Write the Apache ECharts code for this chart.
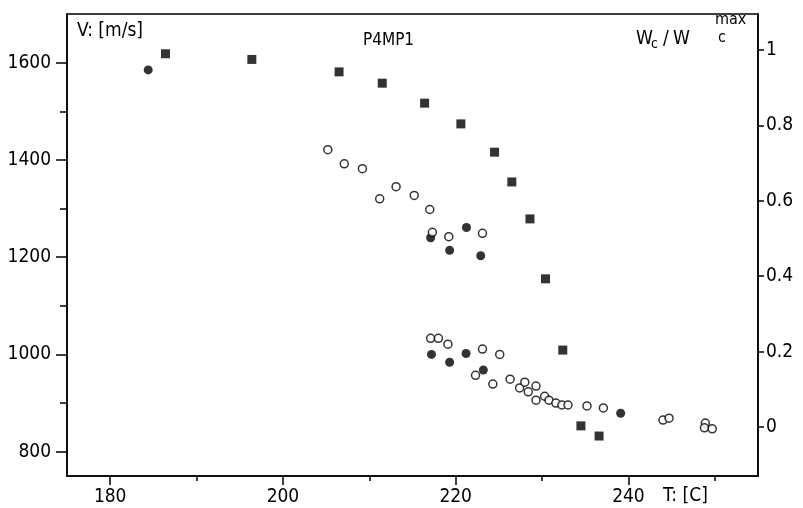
<!DOCTYPE html>
<html>
<head>
<meta charset="utf-8">
<script src="https://cdn.jsdelivr.net/npm/echarts@6/dist/echarts.min.js"></script>
<style>
  html, body { margin: 0; padding: 0; background: #fff; }
  #chart { width: 803px; height: 508px; }
</style>
</head>
<body>
<div id="chart"></div>
<script>
(function(){

    var FONT = '"Liberation Sans Narrow", "DejaVu Sans Condensed", "Liberation Sans", sans-serif';
    var INK = '#000';

    // filled squares: W_c / W_c^max (right axis)
    var squareT = [186.4, 196.4, 206.5, 211.5, 216.4, 220.6, 224.5, 226.5, 228.6, 230.4, 232.4, 234.5, 236.6];
    var squareW = [0.99, 0.975, 0.942, 0.912, 0.859, 0.804, 0.729, 0.65, 0.552, 0.393, 0.204, 0.003, -0.024];

    // filled circles: V (left axis)
    var dotT = [184.4, 217.1, 219.3, 221.25, 222.9, 217.2, 219.3, 221.2, 223.2, 239.1];
    var dotV = [1585, 1240, 1214, 1261, 1203, 1000, 984, 1002, 968, 879];

    // open circles: V (left axis)
    var ringT = [205.2, 207.1, 209.2, 211.2, 213.1, 215.2, 217.0, 217.3, 219.2, 223.1,
                 217.1, 218.0, 219.1, 223.1, 225.1, 222.3, 224.3, 226.3, 227.4, 228.0,
                 228.4, 229.3, 229.3, 230.3, 230.8, 231.6, 232.3, 233.0, 235.2, 237.1,
                 244.0, 244.7, 248.9, 248.8, 249.7];
    var ringV = [1421, 1392, 1382, 1320, 1345, 1327, 1298, 1251, 1242, 1249,
                 1033, 1033, 1021, 1011, 1000, 957, 939, 949, 931, 943,
                 923, 935, 906, 914, 906, 900, 896, 896, 894, 890,
                 865, 869, 859, 849, 847];

    var xMajor = [180, 200, 220, 240];
    var xMinor = [190, 210, 230, 250];
    var yMajor = [800, 1000, 1200, 1400, 1600];
    var yMinor = [900, 1100, 1300, 1500];
    var wTicks = [0, 0.2, 0.4, 0.6, 0.8, 1];

    function pairs(xs, ys){
        return xs.map(function(x, i){ return [x, ys[i]]; });
    }

    var axisLine = { show: true, onZero: false, lineStyle: { color: INK, width: 1.5 } };
    var labelStyle = { color: INK, fontFamily: FONT, fontSize: 19 };
    var plain = function(v){ return String(v); };

    function txt(x, y, s, size){
        return {
            type: 'text', left: x, top: y,
            style: { text: s, fill: INK, font: (size || 19) + 'px ' + FONT }
        };
    }

    var chart = echarts.init(document.getElementById('chart'), null, { renderer: 'canvas' });
    chart.setOption({
        animation: false,
        backgroundColor: '#fff',
        grid: {
            left: 67, right: 45, top: 14, bottom: 32,
            show: true, borderColor: INK, borderWidth: 1.5
        },
        xAxis: [{
            type: 'value', min: 175, max: 255,
            axisLine: axisLine,
            splitLine: { show: false },
            axisTick: { show: true, length: 9, customValues: xMajor, lineStyle: { color: INK, width: 1.5 } },
            axisLabel: Object.assign({ customValues: xMajor, margin: 12, formatter: plain }, labelStyle)
        }, {
            type: 'value', min: 175, max: 255, position: 'bottom',
            axisLine: { show: false, onZero: false },
            splitLine: { show: false },
            axisTick: { show: true, length: 5, customValues: xMinor, lineStyle: { color: INK, width: 1.5 } },
            axisLabel: { show: false }
        }],
        yAxis: [{
            type: 'value', min: 750, max: 1700, position: 'left',
            axisLine: axisLine,
            splitLine: { show: false },
            axisTick: { show: true, length: 11, customValues: yMajor, lineStyle: { color: INK, width: 1.5 } },
            axisLabel: Object.assign({ customValues: yMajor, margin: 16, formatter: plain }, labelStyle)
        }, {
            type: 'value', min: -0.13, max: 1.0955, position: 'right',
            axisLine: axisLine,
            splitLine: { show: false },
            axisTick: { show: true, length: 6, customValues: wTicks, lineStyle: { color: INK, width: 1.5 } },
            axisLabel: Object.assign({ customValues: wTicks, margin: 8,
                formatter: function(v){ return String(Math.round(v * 10) / 10); } }, labelStyle)
        }, {
            type: 'value', min: 750, max: 1700, position: 'left',
            axisLine: { show: false, onZero: false },
            splitLine: { show: false },
            axisTick: { show: true, length: 7, customValues: yMinor, lineStyle: { color: INK, width: 1.5 } },
            axisLabel: { show: false }
        }],
        series: [{
            name: 'W', type: 'scatter', xAxisIndex: 0, yAxisIndex: 1,
            symbol: 'rect', symbolSize: 9,
            itemStyle: { color: INK },
            data: pairs(squareT, squareW)
        }, {
            name: 'V filled', type: 'scatter', xAxisIndex: 0, yAxisIndex: 0,
            symbol: 'circle', symbolSize: 9,
            itemStyle: { color: INK },
            data: pairs(dotT, dotV)
        }, {
            name: 'V open', type: 'scatter', xAxisIndex: 0, yAxisIndex: 0,
            symbol: 'circle', symbolSize: 8,
            itemStyle: { color: '#fff', borderColor: INK, borderWidth: 1.5 },
            data: pairs(ringT, ringV)
        }],
        graphic: [
            txt(77, 22, 'V: [m/s]'),
            txt(363, 32, 'P4MP1', 17),
            txt(663, 487, 'T: [C]'),
            txt(636, 30, 'W'),
            txt(651, 37, 'c', 14),
            txt(663, 30, '/'),
            txt(673, 30, 'W'),
            txt(715, 12, 'max', 16),
            txt(718, 30, 'c', 16)
        ]
    });
})();
</script>
</body>
</html>
